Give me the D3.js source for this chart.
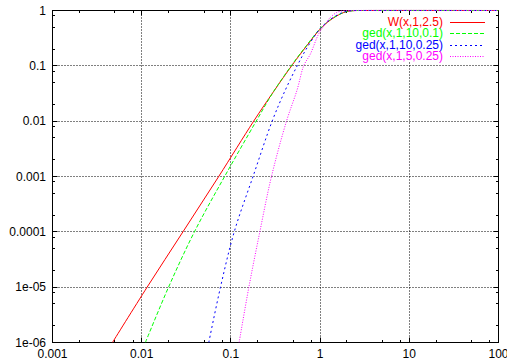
<!DOCTYPE html>
<html>
<head>
<meta charset="utf-8">
<script src="https://cdn.jsdelivr.net/npm/d3@7"></script>
<style>
  body { margin: 0; background: #fff; }
  svg { display: block; font-family: "Liberation Sans", Arial, sans-serif; }
</style>
</head>
<body>
<div id="chart"></div>
<script>
// tick labels
const xTicks = [0.001, 0.01, 0.1, 1, 10, 100];
const xTickLabels = ["0.001", "0.01", "0.1", "1", "10", "100"];
const yTicks = [1e-6, 1e-5, 1e-4, 1e-3, 0.01, 0.1, 1];
const yTickLabels = ["1e-06", "1e-05", "0.0001", "0.001", "0.01", "0.1", "1"];
const minorSteps = [2, 5, 8];

const seriesNames = ["W(x,1,2.5)", "ged(x,1,10,0.1)", "ged(x,1,10,0.25)", "ged(x,1,5,0.25)"];
const seriesColors = ["#ff0000", "#00ff00", "#0000ff", "#ff00ff"];
const seriesDash = [null, "4,2", "2,3", "1,1.5"];

// values
const wX = [0.0047, 0.0115, 0.029, 0.073, 0.18, 0.30, 0.49, 0.70, 1.0, 1.3, 1.7, 2.0, 2.4, 3, 100];
const wY = [1e-6, 1e-5, 1e-4, 1e-3, 0.01, 0.034, 0.105, 0.225, 0.46, 0.67, 0.87, 0.96, 0.995, 1, 1];

const ged1X = [0.011, 0.020, 0.039, 0.085, 0.192, 0.30, 0.485, 0.70, 1.0, 1.3, 1.7, 2.0, 2.4, 3, 100];
const ged1Y = [1e-6, 1e-5, 1e-4, 1e-3, 0.01, 0.034, 0.105, 0.23, 0.47, 0.68, 0.87, 0.96, 0.995, 1, 1];

const ged2X = [0.0565, 0.0764, 0.109, 0.177, 0.290, 0.409, 0.553, 0.685, 0.927, 1.0, 1.3, 1.7, 2.0, 2.4, 3, 100];
const ged2Y = [1e-6, 1e-5, 1e-4, 1e-3, 0.01, 0.037, 0.10, 0.19, 0.405, 0.47, 0.69, 0.89, 0.97, 0.996, 1, 1];

const ged3X = [0.1236, 0.159, 0.211, 0.285, 0.420, 0.553, 0.655, 0.780, 0.966, 1.148, 1.309, 1.556, 1.8, 2.2, 100];
const ged3Y = [1e-6, 1e-5, 1e-4, 1e-3, 0.01, 0.037, 0.10, 0.165, 0.38, 0.575, 0.757, 0.93, 0.985, 1, 1];

const seriesX = [wX, ged1X, ged2X, ged3X];
const seriesY = [wY, ged1Y, ged2Y, ged3Y];

const width = 507, height = 362;
const plotL = 52.5, plotR = 498.5, plotT = 10.5, plotB = 342.5;

const x = d3.scaleLog().domain([0.001, 100]).range([plotL, plotR]);
const y = d3.scaleLog().domain([1e-6, 1]).range([plotB, plotT]);

const svg = d3.select("#chart").append("svg")
  .attr("width", width)
  .attr("height", height);

svg.append("rect").attr("width", width).attr("height", height).attr("fill", "#fff");

svg.append("clipPath").attr("id", "plot")
  .append("rect")
  .attr("x", plotL).attr("y", plotT - 1)
  .attr("width", plotR - plotL).attr("height", plotB - plotT + 1);

// grid
const grid = svg.append("g")
  .attr("stroke", "#000")
  .attr("stroke-width", 1)
  .attr("stroke-dasharray", "1,2");

xTicks.slice(1, -1).forEach(t => {
  const px = Math.round(x(t) - 0.5) + 0.5;
  grid.append("line").attr("x1", px).attr("x2", px).attr("y1", plotB).attr("y2", plotT);
});
yTicks.slice(1, -1).forEach(t => {
  const py = Math.round(y(t) - 0.5) + 0.5;
  grid.append("line").attr("x1", plotL).attr("x2", plotR).attr("y1", py).attr("y2", py);
});

// ticks on all four sides
const ticks = svg.append("g").attr("stroke", "#000").attr("stroke-width", 1);
function tickX(v, len) {
  const px = Math.round(x(v) - 0.5) + 0.5;
  ticks.append("line").attr("x1", px).attr("x2", px).attr("y1", plotB).attr("y2", plotB - len);
  ticks.append("line").attr("x1", px).attr("x2", px).attr("y1", plotT).attr("y2", plotT + len);
}
function tickY(v, len) {
  const py = Math.round(y(v) - 0.5) + 0.5;
  ticks.append("line").attr("x1", plotL).attr("x2", plotL + len).attr("y1", py).attr("y2", py);
  ticks.append("line").attr("x1", plotR).attr("x2", plotR - len).attr("y1", py).attr("y2", py);
}
xTicks.forEach(t => tickX(t, 5));
xTicks.slice(0, -1).forEach(t => minorSteps.forEach(m => tickX(t * m, 2.5)));
yTicks.forEach(t => tickY(t, 5));
yTicks.slice(0, -1).forEach(t => minorSteps.forEach(m => tickY(t * m, 2.5)));

// tick labels
svg.append("g").selectAll("text")
  .data(xTicks)
  .join("text")
  .attr("x", d => x(d))
  .attr("y", 357.5)
  .attr("text-anchor", "middle")
  .attr("font-size", 12)
  .attr("fill", "#000")
  .text((d, i) => xTickLabels[i]);

svg.append("g").selectAll("text")
  .data(yTicks)
  .join("text")
  .attr("x", 46)
  .attr("y", d => y(d) + 4)
  .attr("text-anchor", "end")
  .attr("font-size", 12)
  .attr("fill", "#000")
  .text((d, i) => yTickLabels[i]);

// frame
svg.append("rect")
  .attr("x", plotL).attr("y", plotT)
  .attr("width", plotR - plotL).attr("height", plotB - plotT)
  .attr("fill", "none").attr("stroke", "#000");

// key box (opaque)
svg.append("rect")
  .attr("x", 352).attr("y", 15)
  .attr("width", 140).attr("height", 47)
  .attr("fill", "#fff");

// curves
const line = d3.line()
  .x(d => x(d[0]))
  .y(d => y(d[1]))
  .curve(d3.curveCatmullRom.alpha(0.5));

const curves = svg.append("g").attr("clip-path", "url(#plot)");
seriesNames.forEach((name, i) => {
  const pts = seriesX[i].map((v, j) => [v, seriesY[i][j]]);
  curves.append("path")
    .datum(pts)
    .attr("d", line)
    .attr("fill", "none")
    .attr("stroke", seriesColors[i])
    .attr("stroke-width", 1)
    .attr("stroke-dasharray", seriesDash[i]);
});

// key
const key = svg.append("g");
seriesNames.forEach((name, i) => {
  const ky = 22 + i * 11.4;
  key.append("text")
    .attr("x", 443)
    .attr("y", ky + 4)
    .attr("text-anchor", "end")
    .attr("font-size", 12)
    .attr("fill", seriesColors[i])
    .text(name);
  key.append("line")
    .attr("x1", 450).attr("x2", 485)
    .attr("y1", Math.round(ky) + 0.5).attr("y2", Math.round(ky) + 0.5)
    .attr("stroke", seriesColors[i])
    .attr("stroke-width", 1)
    .attr("stroke-dasharray", seriesDash[i]);
});
</script>
</body>
</html>
